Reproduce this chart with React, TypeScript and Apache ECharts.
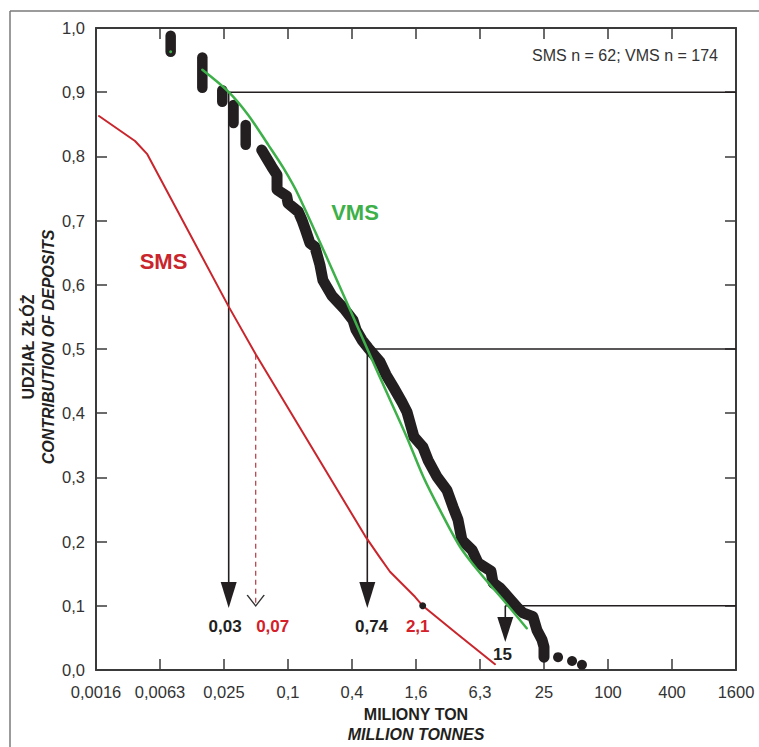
import React, { useEffect, useRef } from 'react';
import * as echarts from 'echarts';

// ---- axes ----
const X_TICK_LABELS = ['0,0016', '0,0063', '0,025', '0,1', '0,4', '1,6', '6,3', '25', '100', '400', '1600'];
const X_MAX = 1600; // million tonnes at the right end of the scale
const X_STEP = 4; // each tick is x4 the previous one
const Y_TICKS_MIN = 0;
const Y_TICKS_MAX = 1;

// ---- VMS deposits (black, cumulative share vs tonnage) ----
// vertical stacks of deposits with equal tonnage
const vmsStackX = [0.00769, 0.01527, 0.02352, 0.0300, 0.03906];
const vmsStackTop = [0.988, 0.954, 0.903, 0.880, 0.849];
const vmsStackBottom = [0.963, 0.907, 0.885, 0.852, 0.818];
// continuous trail of deposits
const vmsTrailX = [0.0553, 0.0616, 0.0686, 0.077, 0.077, 0.0950, 0.0977, 0.122, 0.132, 0.141, 0.157, 0.175, 0.195, 0.208, 0.253, 0.336, 0.399, 0.426, 0.485, 0.552, 0.716, 0.816, 0.970, 1.154, 1.286, 1.433, 1.496, 1.818, 2.026, 2.462, 3.058, 3.483, 3.880, 4.232, 5.256, 5.984, 7.93, 8.28, 9.64, 11.46, 13.93, 15.86, 19.7, 21.48, 23.94, 25.0, 25.0];
const vmsTrailY = [0.810, 0.797, 0.784, 0.771, 0.748, 0.738, 0.727, 0.714, 0.701, 0.688, 0.665, 0.659, 0.631, 0.607, 0.583, 0.561, 0.545, 0.530, 0.514, 0.502, 0.480, 0.460, 0.439, 0.417, 0.402, 0.374, 0.363, 0.347, 0.327, 0.301, 0.280, 0.254, 0.234, 0.202, 0.187, 0.167, 0.154, 0.136, 0.128, 0.114, 0.098, 0.089, 0.083, 0.062, 0.047, 0.036, 0.020];
// largest, isolated deposits
const vmsTailX = [33.9, 45.9, 56.9];
const vmsTailY = [0.020, 0.014, 0.008];

// ---- VMS fitted curve (green) ----
const vmsFitX = [0.01527, 0.02679, 0.04106, 0.0637, 0.0883, 0.1221, 0.2805, 0.5441, 0.890, 1.278, 1.830, 2.628, 4.053, 6.25, 10.35, 17.19];
const vmsFitY = [0.935, 0.901, 0.865, 0.818, 0.782, 0.740, 0.608, 0.500, 0.421, 0.363, 0.301, 0.249, 0.192, 0.151, 0.109, 0.065];
const vmsFitDotX = [0.00769];
const vmsFitDotY = [0.963];

// ---- SMS curve (red) ----
const smsX = [0.001628, 0.003552, 0.004606, 0.02703, 0.04883, 0.5177, 0.7164, 0.890, 1.529, 1.806, 3.773, 8.65];
const smsY = [0.863, 0.824, 0.804, 0.566, 0.491, 0.209, 0.175, 0.153, 0.114, 0.100, 0.057, 0.009];
const smsMarkX = [1.806];
const smsMarkY = [0.100];

// ---- reading arrows (VMS) ----
const arrowX = [0.02703, 0.5441, 10.81];
const arrowFromY = [0.9, 0.5, 0.1];
const arrowHeadY = [0.1168, 0.1168, 0.0631];
// SMS median reading (dashed)
const smsMedianX = [0.0485];
const smsMedianFromY = [0.491];
const smsMedianToY = [0.0997];
const smsMedianHeadY = [0.1083];

// ---- annotation texts ----
const noteText = ['0,03', '0,07', '0,74', '2,1', '15'];
const noteX = [0.0250, 0.0701, 0.596, 1.621, 10.18];
const noteY = [0.0674, 0.0674, 0.0674, 0.0685, 0.0246];
const noteIsSms = [false, true, false, true, false];

const seriesNames = ['SMS', 'VMS'];
const seriesNameX = [0.00659, 0.417];
const seriesNameY = [0.636, 0.712];

const sampleNote = 'SMS n = 62; VMS n = 174';
const xTitle = ['MILIONY TON', 'MILLION TONNES'];
const yTitle = ['UDZIAŁ ZŁÓŻ', 'CONTRIBUTION OF DEPOSITS'];

const lx = (v: number) => X_TICK_LABELS.length - 1 + Math.log(v / X_MAX) / Math.log(X_STEP);
const X_AXIS_MAX = X_TICK_LABELS.length - 1;

const FONT = '"Liberation Sans", Arial, Helvetica, sans-serif';
const INK = '#231f20';
const AXIS = '#3a3a3a';
const RED = '#c9252c';
const RED_TEXT = '#d3202a';
const GREEN = '#3db049';

function line(data: number[][], color: string, width: number, extra: any = {}) {
  return {
    type: 'line',
    data,
    symbol: 'none',
    showSymbol: false,
    silent: true,
    clip: false,
    lineStyle: { color, width, cap: 'round', join: 'round' },
    ...extra,
  };
}

function buildOption() {
  const series: any[] = [];

  // black VMS deposits
  vmsStackX.forEach((x, i) => {
    series.push(line([[lx(x), vmsStackTop[i]], [lx(x), vmsStackBottom[i]]], INK, 10.5, { z: 2 }));
  });
  series.push(line(vmsTrailX.map((x, i) => [lx(x), vmsTrailY[i]]), INK, 11, { z: 2 }));
  series.push({
    type: 'scatter', silent: true, clip: false, z: 2,
    symbolSize: 10, itemStyle: { color: INK, opacity: 1 },
    data: vmsTailX.map((x, i) => [lx(x), vmsTailY[i]]),
  });

  // guide lines and arrows
  arrowX.forEach((x, i) => {
    series.push(line([[lx(x), arrowFromY[i]], [lx(X_MAX), arrowFromY[i]]], INK, 1.6, { z: 3, lineStyle: { color: INK, width: 1.6 } }));
    series.push(line([[lx(x), arrowFromY[i]], [lx(x), arrowHeadY[i]]], INK, 1.6, { z: 3, lineStyle: { color: INK, width: 1.6 } }));
  });
  series.push({
    type: 'scatter', silent: true, clip: false, z: 3,
    symbol: 'triangle', symbolRotate: 180,
    symbolSize: (_v: any, p: any) => (p.dataIndex === 2 ? [16, 25] : [16, 26]),
    itemStyle: { color: INK, opacity: 1 },
    data: arrowX.map((x, i) => [lx(x), arrowHeadY[i]]),
  });
  // dashed SMS median reading
  smsMedianX.forEach((x, i) => {
    series.push(line([[lx(x), smsMedianFromY[i]], [lx(x), smsMedianToY[i]]], '#b8474f', 1.3, {
      z: 3, lineStyle: { color: '#b8474f', width: 1.3, type: [5, 4] },
    }));
  });
  series.push({
    type: 'scatter', silent: true, clip: false, z: 3,
    symbol: 'path://M0 0 L8 11 L16 0', symbolSize: [17, 11],
    itemStyle: { color: 'rgba(0,0,0,0)', borderColor: '#333', borderWidth: 1.2, opacity: 1 },
    data: smsMedianX.map((x, i) => [lx(x), smsMedianHeadY[i]]),
  });

  // SMS curve
  series.push(line(smsX.map((x, i) => [lx(x), smsY[i]]), RED, 2, { z: 4 }));
  series.push({
    type: 'scatter', silent: true, clip: false, z: 5,
    symbolSize: 7, itemStyle: { color: INK, opacity: 1 },
    data: smsMarkX.map((x, i) => [lx(x), smsMarkY[i]]),
  });

  // VMS fitted curve
  series.push(line(vmsFitX.map((x, i) => [lx(x), vmsFitY[i]]), GREEN, 2.5, { z: 6, smooth: 0.3 }));
  series.push({
    type: 'scatter', silent: true, clip: false, z: 6,
    symbolSize: 3, itemStyle: { color: GREEN, opacity: 1 },
    data: vmsFitDotX.map((x, i) => [lx(x), vmsFitDotY[i]]),
  });

  // annotation numbers
  series.push({
    type: 'scatter', silent: true, clip: false, z: 10,
    symbolSize: 1, itemStyle: { color: 'rgba(0,0,0,0)', opacity: 1 },
    label: { show: true, position: 'inside', formatter: '{b}', fontFamily: FONT, fontWeight: 'bold', fontSize: 17 },
    data: noteText.map((t, i) => ({
      name: t,
      value: [lx(noteX[i]), noteY[i]],
      label: { color: noteIsSms[i] ? RED_TEXT : INK },
    })),
  });
  // series names
  series.push({
    type: 'scatter', silent: true, clip: false, z: 10,
    symbolSize: 1, itemStyle: { color: 'rgba(0,0,0,0)', opacity: 1 },
    label: { show: true, position: 'inside', formatter: '{b}', fontFamily: FONT, fontWeight: 'bold', fontSize: 22 },
    data: seriesNames.map((t, i) => ({
      name: t,
      value: [lx(seriesNameX[i]), seriesNameY[i]],
      label: { color: i === 0 ? RED : GREEN },
    })),
  });

  const axisLine = { show: true, onZero: false, lineStyle: { color: AXIS, width: 2 } };
  const axisTick = { show: true, inside: true, length: 11, lineStyle: { color: AXIS, width: 1.5 } };

  return {
    animation: false,
    backgroundColor: '#ffffff',
    grid: { left: 96, top: 28, width: 640, height: 642, containLabel: false },
    xAxis: [
      {
        type: 'value', position: 'bottom', min: 0, max: X_AXIS_MAX, interval: 1,
        axisLine, axisTick, splitLine: { show: false },
        axisLabel: {
          formatter: (v: number) => X_TICK_LABELS[Math.round(v)] ?? '',
          fontFamily: FONT, fontSize: 16.5, color: '#333', margin: 13,
        },
      },
      {
        type: 'value', position: 'top', min: 0, max: X_AXIS_MAX, interval: 1,
        axisLine, axisTick, splitLine: { show: false }, axisLabel: { show: false },
      },
    ],
    yAxis: [
      {
        type: 'value', position: 'left', min: Y_TICKS_MIN, max: Y_TICKS_MAX, interval: 0.1,
        axisLine, axisTick, splitLine: { show: false },
        axisLabel: {
          formatter: (v: number) => v.toFixed(1).replace('.', ','),
          fontFamily: FONT, fontSize: 16.5, color: '#333', margin: 11,
        },
      },
      {
        type: 'value', position: 'right', min: Y_TICKS_MIN, max: Y_TICKS_MAX, interval: 0.1,
        axisLine, axisTick, splitLine: { show: false }, axisLabel: { show: false },
      },
    ],
    graphic: [
      { type: 'line', silent: true, shape: { x1: 10, y1: 11, x2: 759, y2: 11 }, style: { stroke: '#7a7a7a', lineWidth: 1.5 } },
      { type: 'line', silent: true, shape: { x1: 10, y1: 11, x2: 10, y2: 747 }, style: { stroke: '#7a7a7a', lineWidth: 1.5 } },
      {
        type: 'text', silent: true, x: 718, y: 55,
        style: { text: sampleNote, fill: '#333', font: `16px ${FONT}`, align: 'right', verticalAlign: 'middle' },
      },
      {
        type: 'text', silent: true, x: 416, y: 714,
        style: { text: xTitle[0], fill: INK, font: `bold 16px ${FONT}`, align: 'center', verticalAlign: 'middle' },
      },
      {
        type: 'text', silent: true, x: 416, y: 734,
        style: { text: xTitle[1], fill: INK, font: `italic bold 16px ${FONT}`, align: 'center', verticalAlign: 'middle' },
      },
      {
        type: 'text', silent: true, x: 28, y: 347, rotation: Math.PI / 2,
        style: { text: yTitle[0], fill: INK, font: `bold 16px ${FONT}`, align: 'center', verticalAlign: 'middle' },
      },
      {
        type: 'text', silent: true, x: 48, y: 347, rotation: Math.PI / 2,
        style: { text: yTitle[1], fill: INK, font: `italic bold 16px ${FONT}`, align: 'center', verticalAlign: 'middle' },
      },
    ],
    series,
  };
}

export default function App() {
  const ref = useRef<HTMLDivElement>(null);
  useEffect(() => {
    if (!ref.current) return;
    const chart = echarts.init(ref.current, undefined, { renderer: 'svg' });
    chart.setOption(buildOption() as any);
    return () => chart.dispose();
  }, []);
  return (
    <div
      ref={ref}
      style={{ position: 'fixed', left: 0, top: 0, width: 759, height: 747, background: '#fff' }}
    />
  );
}
